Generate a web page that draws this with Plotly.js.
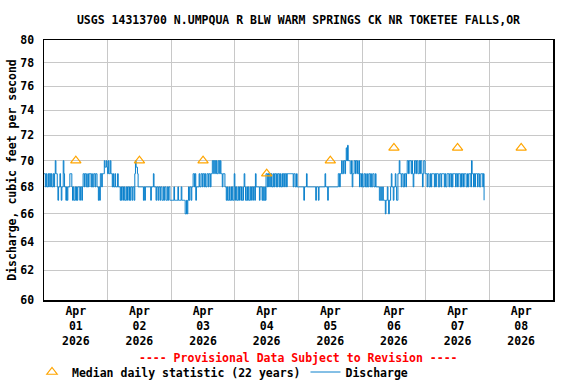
<!DOCTYPE html>
<html>
<head>
<meta charset="utf-8">
<script src="https://cdn.plot.ly/plotly-3.0.1.min.js"></script>
<style>
  body { margin: 0; background: white; }
  #chart { width: 576px; height: 384px; }
</style>
</head>
<body>
<div id="chart"></div>
<script>
const dischargeStart = Date.UTC(2026, 3, 1, 0, 0);
const stepMinutes = 15;
const dischargeRuns = [
    [69,2],[68,1],[69,1],[68,2],[69,1],[68,1],[69,2],[68,1],[69,1],[68,2],[69,1],[68,1],[69,1],
    [70,1],
    [69,2],[68,1],[67,1],[68,2],[69,1],[68,1],[67,1],[68,2],
    [70,1],
    [69,1],[68,2],[67,1],[68,1],[67,1],[68,3],
    [69,3],
    [68,1],[67,1],[68,1],[67,2],[68,1],[67,1],[68,1],[67,1],[68,3],[67,1],[68,2],[67,1],[68,1],
    [69,2],[68,1],[69,2],[68,2],[69,1],[68,1],[69,3],[68,1],[69,1],[68,2],[69,2],[68,1],[69,2],[68,2],
    [67,1],[68,1],[67,1],
    [69,2],[68,1],[69,3],
    [70,1],[69.5,2],[70,1],[69.5,1],[69,1],[70,1],[69,2],[70,1],
    [69,2],[68,1],[69,1],[68,2],[69,1],[68,3],[69,1],[68,3],
    [67,1],[68,1],[67,1],[68,2],[67,1],[68,1],[67,2],[68,1],[67,1],[68,2],[67,1],[68,1],[67,1],[68,2],[67,1],[68,2],[67,1],
    [69,1],[70,1],[69.5,2],[69,1],
    [68,8],[67,1],[68,1],[67,1],[68,8],[67,1],[68,3],
    [69,1],
    [68,3],[67,1],[68,2],[67,1],[68,2],
    [67,1],[68,2],[67,2],[68,1],[67,1],[68,2],[67,2],[68,1],[67,1],[68,2],
    [67,6],[68,1],[67,5],[68,1],[67,4],[68,1],[67,5],
    [66,2],[67,1],[66,1],[67,1],
    [68,1],[67,1],[68,2],[67,1],[68,2],
    [69,2],[68,1],[69,1],[67,1],[68,1],
    [68,3],[69,1],[68,2],[69,2],
    [68,1],[69,2],[68,1],[69,1],[68,2],[69,2],[68,1],[69,2],[68,1],[69,2],
    [70,2],[69,1],[70,2],[69,1],[70,1],[69,2],[70,2],[69,1],[70,1],
    [69,2],[68,1],[69,3],[68,2],
    [67,1],[68,1],[67,2],
    [68,1],[67,2],[68,1],[67,1],[68,1],[67,2],[69,1],[68,1],[67,1],[68,1],[67,2],[68,1],[67,1],[68,2],[67,1],[68,1],[67,2],[68,1],[69,1],[68,1],[67,2],[68,1],[67,1],[68,1],[67,2],[68,1],[67,1],[68,2],[67,1],[68,2],[67,1],[69,1],
    [68,5],[67,1],[68,3],[67,1],[68,1],[67,2],[68,1],[67,1],
    [69,2],[68,1],[69,1],[68,1],[69,2],[68,1],[69,1],[68,2],[69,1],[68,1],[69,2],[68,1],[69,1],[68,1],[69,2],[68,1],[69,1],[68,2],[69,1],[68,1],[69,2],[68,1],[69,2],[68,1],
    [69,9],
    [68,1],[69,2],[68,2],[69,1],[68,2],
    [68,8],[67,1],
    [68,3],[69,1],[68,1],
    [68,12],
    [67,1],[68,3],[67,1],[68,2],
    [68,7],[69,1],
    [68,3],[67,1],[68,5],
    [68,10],
    [69,2],[68,1],[69,2],[70,1],[69,2],
    [70,2],[69,1],[70,1],[71,1],[70,1],[71.2,1],[70,2],
    [70,1],[69,2],[70,1],[68,1],[69,1],
    [69,1],[70,2],[69,1],[70,2],[69,2],[70,1],
    [68,1],[69,2],[68,1],[69,1],[68,2],[69,2],[68,2],
    [69,1],[68,2],[69,2],[68,1],[69,1],[68,2],[69,2],[68,2],[69,1],[68,1],
    [68,4],
    [67,2],[68,1],[67,2],[68,1],[67,3],[66,1],[67,2],[68,1],[67,1],[66,1],[67,2],[68,1],
    [69,1],[68,2],[67,1],[68,2],[69,1],[68,1],[67,2],
    [69,2],[70,1],[69,2],
    [68,1],[69,2],[68,2],[69,2],[68,1],[69,1],
    [70,2],[69,1],[70,3],[69,1],[70,1],[69,1],[68,1],[69,1],[70,2],[69,1],[70,2],[69,2],[70,1],[69,1],[70,2],[69,1],[68,1],[69,1],[70,2],
    [69,3],[68,1],[69,2],[68,2],[69,1],[68,1],[69,4],[68,1],[69,1],[68,1],[69,3],[68,2],[69,2],[68,1],[69,4],[68,1],[69,1],[68,2],[69,3],[68,1],
    [69,2],[68,1],[69,1],[68,1],[69,4],[68,1],[69,2],[68,1],[69,3],[68,1],[69,1],[68,1],[69,2],[68,1],[69,3],[68,2],[69,1],[68,1],[69,3],[68,1],
    [70,1],
    [69,2],[68,1],[69,1],[68,1],[69,3],[68,1],[69,2],[68,2],[69,3],[68,1],
    [69,1],[67,1]
];

const medianDates = ["2026-04-01 12:00", "2026-04-02 12:00", "2026-04-03 12:00", "2026-04-04 12:00",
                     "2026-04-05 12:00", "2026-04-06 12:00", "2026-04-07 12:00", "2026-04-08 12:00"];
const medianCfs = [70, 70, 70, 69, 70, 71, 71, 71];

const yTicks = [60, 62, 64, 66, 68, 70, 72, 74, 76, 78, 80];

const titleText = "USGS 14313700 N.UMPQUA R BLW WARM SPRINGS CK NR TOKETEE FALLS,OR";

// expand runs into the 15-minute series
const dischargeTimes = [];
const dischargeCfs = [];
dischargeRuns.forEach(([cfs, count]) => {
    for (let k = 0; k < count; k++) {
        dischargeTimes.push(dischargeStart + dischargeTimes.length * stepMinutes * 60000);
        dischargeCfs.push(cfs);
    }
});

const baseFont = { family: "DejaVu Sans Mono", size: 11.5, color: "black", weight: "bold" };

const discharge = {
    name: "Discharge",
    x: dischargeTimes,
    y: dischargeCfs,
    mode: "lines",
    type: "scatter",
    line: { color: "#0a80cc", width: 1, shape: "hv" },
    legendrank: 2,
    hoverinfo: "skip",
};

const medians = {
    name: "Median daily statistic (22 years)",
    x: medianDates,
    y: medianCfs,
    mode: "markers",
    type: "scatter",
    marker: {
        color: "#ffa500",
        symbol: "triangle-up-open",
        size: 9,
        line: { color: "#ffa500", width: 1.2 },
    },
    legendrank: 1,
    hoverinfo: "skip",
};

const layout = {
    width: 576,
    height: 384,
    margin: { l: 44, r: 23, t: 40, b: 84 },
    paper_bgcolor: "white",
    plot_bgcolor: "white",
    font: baseFont,
    title: {
        text: titleText,
        font: baseFont,
        xref: "paper",
        x: 0.5,
        yref: "container",
        y: 1 - 20 / 384,
        yanchor: "middle",
    },
    xaxis: {
        type: "date",
        range: ["2026-04-01 00:00", "2026-04-09 00:00"],
        tick0: "2026-04-01",
        dtick: 86400000,
        ticklabelmode: "period",
        tickformat: "%b<br>%d<br>%Y",
        ticks: "",
        showgrid: true,
        gridcolor: "#c8c8c8",
        showline: true,
        mirror: true,
        linecolor: "black",
        linewidth: 1.5,
        zeroline: false,
        automargin: false,
    },
    yaxis: {
        type: "log",
        range: [Math.log10(60), Math.log10(80)],
        tickvals: yTicks,
        ticktext: yTicks.map(String),
        ticks: "",
        ticklabelstandoff: 6,
        showgrid: true,
        gridcolor: "#c8c8c8",
        showline: true,
        mirror: true,
        linecolor: "black",
        linewidth: 1.5,
        zeroline: false,
        automargin: false,
        title: { text: "Discharge, cubic feet per second", font: baseFont, standoff: 1 },
    },
    showlegend: true,
    legend: {
        orientation: "h",
        xref: "container",
        yref: "container",
        x: 32 / 576,
        y: 12 / 384,
        xanchor: "left",
        yanchor: "middle",
        font: baseFont,
        bgcolor: "rgba(0,0,0,0)",
    },
    annotations: [{
        text: "---- Provisional Data Subject to Revision ----",
        xref: "paper",
        yref: "paper",
        x: 0.5,
        y: -58 / 260,
        xanchor: "center",
        yanchor: "middle",
        showarrow: false,
        font: { family: "DejaVu Sans Mono", size: 11.5, color: "#ff0000", weight: "bold" },
    }],
};

Plotly.newPlot("chart", [discharge, medians], layout, { staticPlot: true, displayModeBar: false });
</script>
</body>
</html>
